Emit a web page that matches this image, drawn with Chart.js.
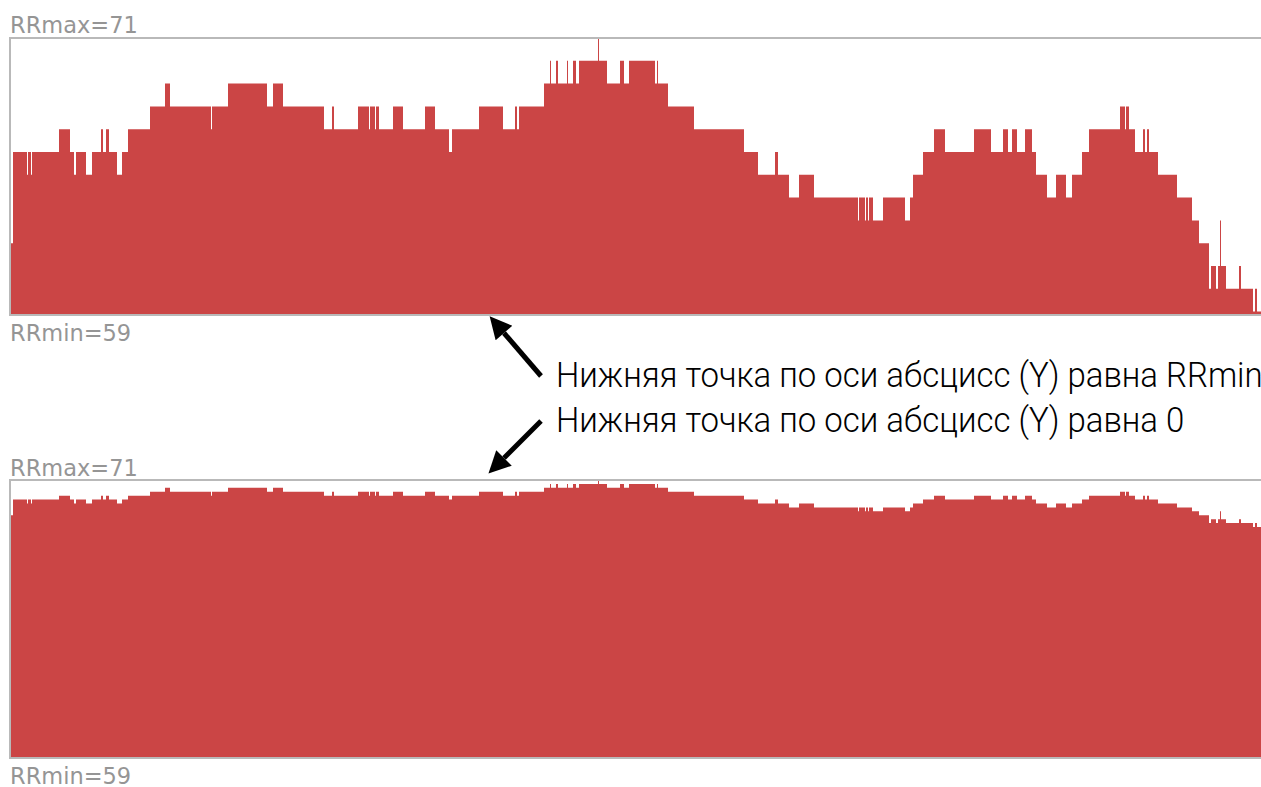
<!DOCTYPE html>
<html>
<head>
<meta charset="utf-8">
<script src="https://cdn.jsdelivr.net/npm/chart.js@4"></script>
<style>
  body { margin: 0; background: #fff; width: 1261px; height: 787px; overflow: hidden; position: relative; font-family: 'DejaVu Sans', sans-serif; }
  .plot { position: absolute; left: 10px; }
  .frame { position: absolute; left: 9px; width: 1270px; border: 2px solid #b9b9b9; box-sizing: border-box; pointer-events: none; }
  .lbl { position: absolute; left: 10px; font-size: 22.5px; line-height: 22px; color: #959595; white-space: nowrap; }
  .note { position: absolute; left: 556px; font-family: Roboto, sans-serif; font-weight: 300; font-size: 35px; line-height: 35px; color: #000; white-space: nowrap; transform-origin: 0 0; }
  svg { position: absolute; left: 0; top: 0; }
</style>
</head>
<body>

<div class="lbl" id="maxTop" style="top:14px"></div>
<canvas class="plot" id="chartTop" width="1251" height="277" style="top:38px"></canvas>
<div class="frame" style="top:37px;height:279px"></div>
<div class="lbl" id="minTop" style="top:322px"></div>

<div class="note" id="note1" style="top:358px">Нижняя точка по оси абсцисс (Y) равна RRmin</div>
<div class="note" id="note2" style="top:403px">Нижняя точка по оси абсцисс (Y) равна 0</div>

<div class="lbl" id="maxBot" style="top:457px"></div>
<canvas class="plot" id="chartBot" width="1251" height="278" style="top:480px"></canvas>
<div class="frame" style="top:479px;height:280px"></div>
<div class="lbl" id="minBot" style="top:765px"></div>

<svg width="1261" height="787">
  <defs>
    <marker id="head" viewBox="0 0 10 10" refX="0" refY="5" markerWidth="24" markerHeight="22" markerUnits="userSpaceOnUse" orient="auto">
      <path d="M0,0 L10,5 L0,10 z" fill="#000"/>
    </marker>
  </defs>
  <line x1="541" y1="376" x2="504" y2="333" stroke="#000" stroke-width="5" marker-end="url(#head)"/>
  <line x1="541" y1="421" x2="504" y2="458" stroke="#000" stroke-width="5" marker-end="url(#head)"/>
</svg>

<script>
// RR interval record, stored as runs: sample index where a run starts + its value
const rrMax = 71;
const rrMin = 59;
const sampleCount = 1251;
const runStart = [
  0, 3, 17, 18, 21, 22, 49, 60, 64, 66, 76, 82, 91, 93, 96, 99, 107, 112, 118, 140,
  155, 160, 201, 202, 218, 257, 263, 273, 314, 322, 324, 348, 359, 360, 365, 366, 369, 383, 393, 415,
  425, 439, 442, 469, 493, 505, 507, 509, 534, 540, 541, 546, 548, 557, 558, 563, 566, 569, 588, 589,
  597, 610, 614, 619, 645, 647, 648, 658, 684, 734, 748, 765, 768, 779, 789, 804, 848, 849, 855, 856,
  858, 859, 863, 873, 895, 900, 903, 913, 924, 935, 964, 981, 993, 998, 1002, 1007, 1015, 1022, 1026, 1037,
  1046, 1056, 1062, 1072, 1079, 1110, 1115, 1116, 1119, 1125, 1133, 1135, 1137, 1139, 1148, 1167, 1182, 1189, 1199, 1201,
  1206, 1208, 1210, 1211, 1216, 1229, 1231, 1243, 1245, 1247
];
const runRR = [
  62, 66, 65, 66, 65, 66, 67, 66, 65, 66, 65, 66, 67, 66, 67, 66, 65, 66, 67, 68,
  69, 68, 67, 68, 69, 68, 69, 68, 67, 68, 67, 68, 67, 68, 67, 68, 67, 68, 67, 68,
  67, 66, 67, 68, 67, 68, 67, 68, 69, 70, 69, 70, 69, 70, 69, 70, 69, 70, 71, 70,
  69, 70, 69, 70, 69, 70, 69, 68, 67, 66, 65, 66, 65, 64, 65, 64, 63, 64, 63, 64,
  63, 64, 63, 64, 63, 64, 65, 66, 67, 66, 67, 66, 67, 66, 67, 66, 67, 66, 65, 64,
  65, 64, 65, 66, 67, 68, 67, 68, 67, 66, 67, 66, 67, 66, 65, 64, 63, 62, 60, 61,
  60, 61, 63, 61, 60, 61, 60, 59, 60, 59
];

const barColor = '#cb4545';

const points = runStart.map((x, i) => ({ x: x, y: runRR[i] }));
points.push({ x: sampleCount, y: runRR[runRR.length - 1] });

function makeChart(id, yMin) {
  return new Chart(document.getElementById(id), {
    type: 'line',
    data: {
      datasets: [{
        data: points,
        stepped: true,
        fill: 'start',
        backgroundColor: barColor,
        borderColor: 'rgba(0,0,0,0)',
        borderWidth: 0,
        pointRadius: 0
      }]
    },
    options: {
      responsive: false,
      animation: false,
      events: [],
      layout: { padding: 0, autoPadding: false },
      plugins: { legend: { display: false }, tooltip: { enabled: false } },
      scales: {
        x: { type: 'linear', min: 0, max: sampleCount, display: false },
        y: { min: yMin, max: rrMax, display: false }
      }
    }
  });
}

makeChart('chartTop', rrMin - 0.15);
makeChart('chartBot', 0);

['maxTop', 'maxBot'].forEach(id => document.getElementById(id).textContent = 'RRmax=' + rrMax);
['minTop', 'minBot'].forEach(id => document.getElementById(id).textContent = 'RRmin=' + rrMin);

// squeeze the annotation to the condensed width of the original
const m = document.createElement('canvas').getContext('2d');
m.font = '300 35px Roboto';
const w = m.measureText(document.getElementById('note2').textContent).width;
const k = 629 / w;
['note1', 'note2'].forEach(id => document.getElementById(id).style.transform = 'scaleX(' + k + ')');
</script>
</body>
</html>
